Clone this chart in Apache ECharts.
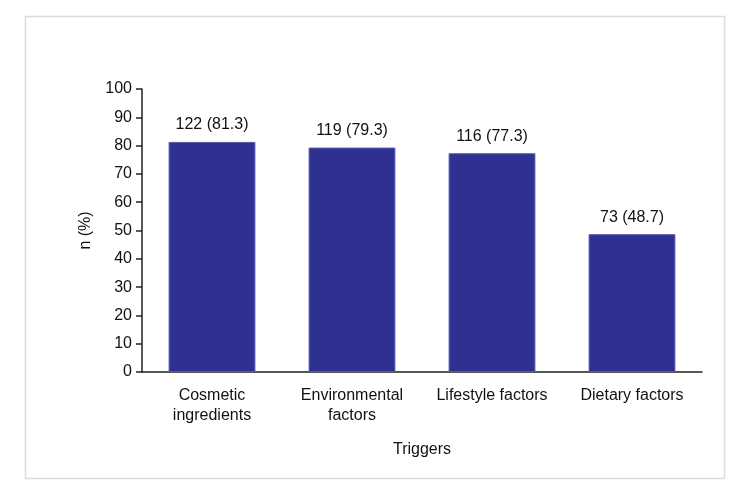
<!DOCTYPE html>
<html>
<head>
<meta charset="utf-8">
<script src="https://cdn.jsdelivr.net/npm/echarts@6/dist/echarts.min.js"></script>
<style>
  html, body { margin: 0; padding: 0; background: #fff; }
  #chart { width: 750px; height: 495px; }
</style>
</head>
<body>
<div id="chart"></div>
<script>
// data
const categories = ['Cosmetic\ningredients', 'Environmental\nfactors', 'Lifestyle factors', 'Dietary factors']
const counts = [122, 119, 116, 73]
const percents = [81.3, 79.3, 77.3, 48.7]

const font = 'Liberation Sans, Arial, sans-serif'
const myChart = echarts.init(document.getElementById('chart'))
const options = {
  backgroundColor: '#fff',
  animation: false,
  textStyle: { fontFamily: font },
  graphic: [
    {
      type: 'rect',
      shape: { x: 25.5, y: 16.5, width: 699, height: 462 },
      style: { fill: 'none', stroke: '#dcdcdc', lineWidth: 1.5 },
      silent: true
    }
  ],
  grid: { left: 142, right: 48, top: 89, bottom: 123 },
  xAxis: {
    type: 'category',
    data: categories,
    name: 'Triggers',
    nameLocation: 'middle',
    nameGap: 70,
    nameTextStyle: { color: '#111', fontSize: 16, fontFamily: font },
    axisLine: { lineStyle: { color: '#222', width: 1.5 } },
    axisTick: { show: false },
    axisLabel: { interval: 0, hideOverlap: false, color: '#111', fontSize: 16, margin: 14, lineHeight: 20, fontFamily: font }
  },
  yAxis: {
    type: 'value',
    min: 0,
    max: 100,
    interval: 10,
    name: 'n (%)',
    nameLocation: 'middle',
    nameGap: 48,
    nameRotate: 90,
    nameTextStyle: { color: '#111', fontSize: 16, fontFamily: font },
    axisLine: { show: true, lineStyle: { color: '#222', width: 1.5 } },
    axisTick: { show: true, length: 6, lineStyle: { color: '#222', width: 1.5 } },
    axisLabel: { color: '#111', fontSize: 16, margin: 10, fontFamily: font },
    splitLine: { show: false }
  },
  series: [
    {
      type: 'bar',
      data: percents,
      barWidth: '62%',
      itemStyle: { color: '#2e3192', borderColor: '#5558ad', borderWidth: 1 },
      label: {
        show: true,
        position: 'top',
        distance: 9,
        color: '#111',
        fontSize: 16,
        fontFamily: font,
        formatter: function (p) {
          return counts[p.dataIndex] + ' (' + percents[p.dataIndex].toFixed(1) + ')'
        }
      }
    }
  ]
}
myChart.setOption(options)
</script>
</body>
</html>
